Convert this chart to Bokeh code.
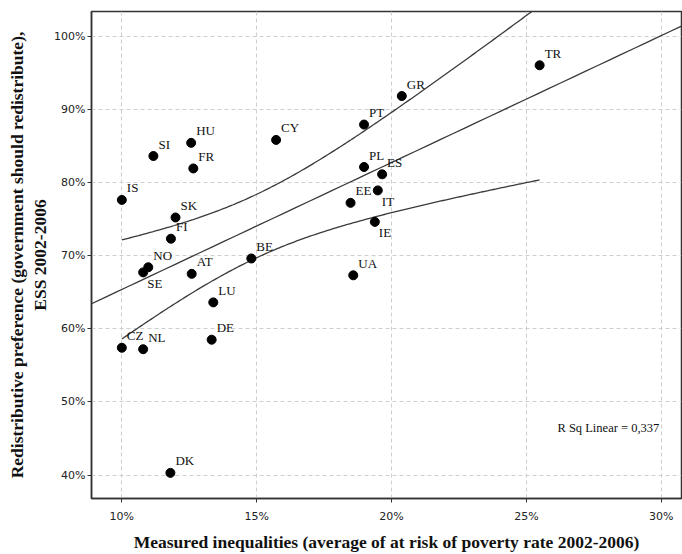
import numpy as np
from bokeh.plotting import figure
from bokeh.models import ColumnDataSource, FixedTicker, PrintfTickFormatter, Range1d, Label, Title
from bokeh.core.properties import value
from bokeh.embed import file_html
from bokeh.resources import INLINE

countries = ["TR", "GR", "PT", "CY", "HU", "SI", "FR", "PL", "ES", "EE", "IT", "IE",
             "IS", "SK", "FI", "NO", "SE", "AT", "BE", "UA", "LU", "DE", "CZ", "NL", "DK"]
poverty = [25.49, 20.38, 18.98, 15.72, 12.57, 11.17, 12.65, 18.98, 19.65, 18.48, 19.49, 19.38,
           10.00, 11.99, 11.82, 10.98, 10.79, 12.59, 14.80, 18.58, 13.39, 13.33, 10.00, 10.79, 11.80]
preference = [96.0, 91.8, 87.9, 85.8, 85.4, 83.6, 81.9, 82.1, 81.1, 77.2, 78.9, 74.6,
              77.6, 75.2, 72.3, 68.4, 67.7, 67.5, 69.6, 67.3, 63.6, 58.5, 57.4, 57.2, 40.3]
labels_below = ["SE", "IT", "IE"]

x_ticks = [10, 15, 20, 25, 30]
y_ticks = [40, 50, 60, 70, 80, 90, 100]
r_sq_text = "R Sq Linear = 0,337"
x_title = "Measured inequalities (average of at risk of poverty rate 2002-2006)"
y_title_line1 = "Redistributive preference (government should redistribute),"
y_title_line2 = "ESS 2002-2006"

SERIF = "Liberation Serif"
TICKFONT = "DejaVu Sans"
X_MIN, X_MAX = 8.875, 30.75
Y_MIN, Y_MAX = 36.8, 103.35

# fit line and 95% mean confidence interval, computed from the data
xa = np.array(poverty)
ya = np.array(preference)
n = len(xa)
b1, b0 = np.polyfit(xa, ya, 1)
resid = ya - (b0 + b1 * xa)
s = np.sqrt(np.sum(resid ** 2) / (n - 2))
sxx = np.sum((xa - xa.mean()) ** 2)
t_crit = 2.069  # t(0.975, n-2)

fit_x = np.linspace(X_MIN, X_MAX, 50)
fit_y = b0 + b1 * fit_x
ci_x = np.linspace(xa.min(), xa.max(), 200)
ci_c = b0 + b1 * ci_x
ci_h = t_crit * s * np.sqrt(1.0 / n + (ci_x - xa.mean()) ** 2 / sxx)

p = figure(width=682, height=554, output_backend="svg", toolbar_location=None,
           x_range=Range1d(X_MIN, X_MAX), y_range=Range1d(Y_MIN, Y_MAX),
           min_border_left=91, min_border_right=1, min_border_top=11, min_border_bottom=54)
p.background_fill_color = "white"
p.border_fill_color = "white"
p.outline_line_color = "#333333"
p.outline_line_width = 1.5

for ax in (p.xaxis[0], p.yaxis[0]):
    ax.major_label_text_font = TICKFONT
    ax.major_label_text_font_size = "11px"
    ax.major_label_text_color = "#222222"
    ax.axis_label_text_font = SERIF
    ax.axis_label_text_font_style = "bold"
    ax.axis_label_text_font_size = "17.5px"
    ax.axis_label_text_color = "#111111"
    ax.axis_line_color = "#333333"
    ax.axis_line_width = 1.5
    ax.major_tick_line_color = "#333333"
    ax.major_tick_out = 4
    ax.major_tick_in = 0
    ax.minor_tick_out = 0
    ax.minor_tick_in = 0
    ax.formatter = PrintfTickFormatter(format="%d%%")

p.xaxis[0].ticker = FixedTicker(ticks=x_ticks)
p.yaxis[0].ticker = FixedTicker(ticks=y_ticks)
p.xaxis[0].axis_label = x_title
p.xaxis[0].major_label_standoff = 7
p.yaxis[0].major_label_standoff = 2
p.xaxis[0].axis_label_standoff = 6

p.xgrid[0].ticker = FixedTicker(ticks=x_ticks)
p.ygrid[0].ticker = FixedTicker(ticks=y_ticks)
for g in (p.xgrid[0], p.ygrid[0]):
    g.grid_line_color = "#cfcfcf"
    g.grid_line_dash = "4 3"
    g.grid_line_width = 1

# two-line y axis title as stacked titles on the left (first added sits nearest the axis)
p.add_layout(Title(text=y_title_line2, align="center", text_font=SERIF, text_font_style="bold",
                   text_font_size="17.5px", text_color="#111111", standoff=3), "left")
p.add_layout(Title(text=y_title_line1, align="center", text_font=SERIF, text_font_style="bold",
                   text_font_size="17.5px", text_color="#111111", standoff=0), "left")

line_col = "#3a3a3a"
p.line(fit_x, fit_y, line_color=line_col, line_width=1.3)
p.line(ci_x, ci_c + ci_h, line_color=line_col, line_width=1.3)
p.line(ci_x, ci_c - ci_h, line_color=line_col, line_width=1.3)

src = ColumnDataSource(dict(x=poverty, y=preference, name=countries))
p.scatter("x", "y", source=src, size=9, fill_color="black", line_color="black")

above = [i for i, c in enumerate(countries) if c not in labels_below]
below = [i for i, c in enumerate(countries) if c in labels_below]
src_a = ColumnDataSource(dict(x=[poverty[i] for i in above], y=[preference[i] for i in above],
                              name=[countries[i] for i in above]))
src_b = ColumnDataSource(dict(x=[poverty[i] for i in below], y=[preference[i] for i in below],
                              name=[countries[i] for i in below]))
p.text("x", "y", text="name", source=src_a, x_offset=5, y_offset=-12,
       text_font=value(SERIF), text_font_size="13px", text_color="#111111",
       text_align="left", text_baseline="middle")
p.text("x", "y", text="name", source=src_b, x_offset=4, y_offset=11,
       text_font=value(SERIF), text_font_size="13px", text_color="#111111",
       text_align="left", text_baseline="middle")

p.add_layout(Label(x=26.15, y=46.4, text=r_sq_text, text_font=SERIF, text_font_size="12.5px",
                   text_color="#111111", text_baseline="middle", text_align="left"))

open("out.html", "w").write(file_html(p, INLINE))
